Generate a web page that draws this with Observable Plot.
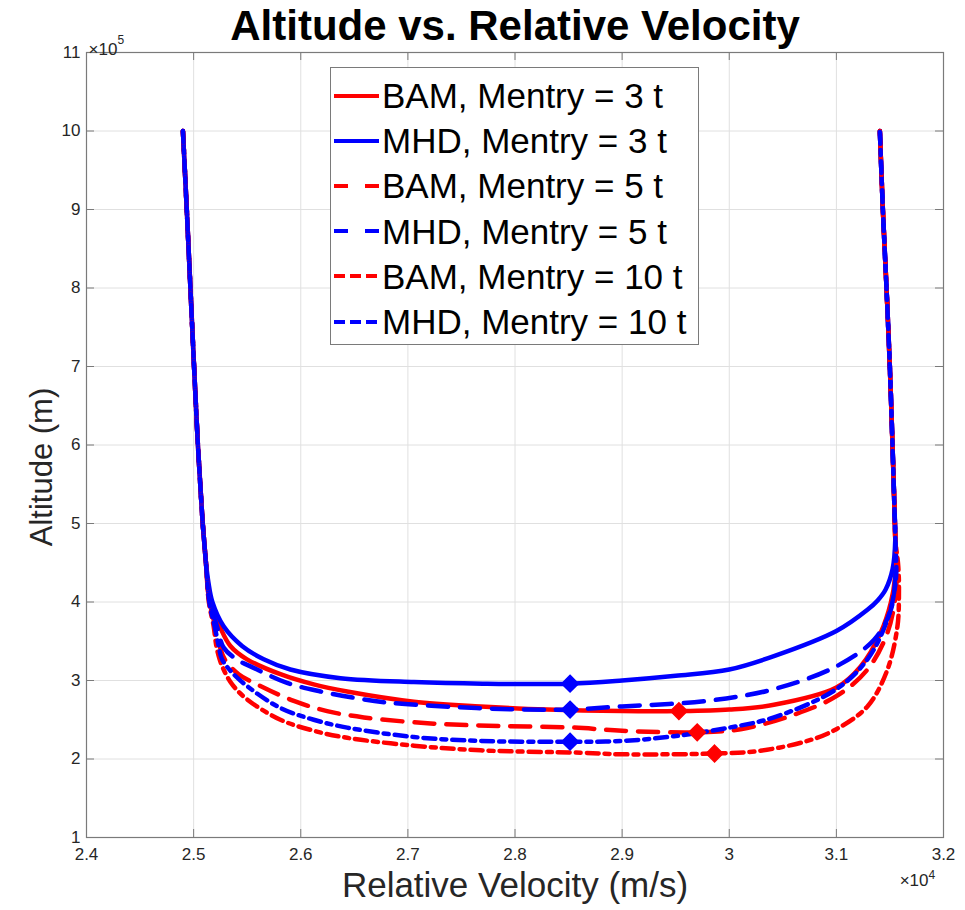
<!DOCTYPE html>
<html>
<head>
<meta charset="utf-8">
<script src="https://cdn.jsdelivr.net/npm/d3@7"></script>
<script src="https://cdn.jsdelivr.net/npm/@observablehq/plot@0.6"></script>
<style>
  html, body { margin: 0; padding: 0; background: #fff; }
  #wrap { position: relative; width: 965px; height: 910px; font-family: "Liberation Sans", Arial, sans-serif; }
  #legend { position: absolute; left: 330px; top: 67px; width: 369px; height: 278px; background: #fff; border: 1px solid #7a7a7a; box-sizing: border-box; }
  .row { position: absolute; left: 0; height: 45px; display: flex; align-items: center; }
  .row svg { margin-left: 3px; }
  .row span { font-size: 35px; color: #000; margin-left: 3px; line-height: 45px; }
</style>
</head>
<body>
<div id="wrap"></div>
<script>
// ---------- data ----------
const titleText = "Altitude vs. Relative Velocity";
const xLabel = "Relative Velocity (m/s)";
const yLabel = "Altitude (m)";
const xTicks = [24000, 25000, 26000, 27000, 28000, 29000, 30000, 31000, 32000];
const yTicks = [100000, 200000, 300000, 400000, 500000, 600000, 700000, 800000, 900000, 1000000, 1100000];

// shared entry branch (left) and exit branch (right)
const leftV = [24900, 24936, 24970, 25004, 25040, 25062, 25085, 25100, 25115];
const leftH = [1000000, 900000, 800000, 700000, 600000, 550000, 500000, 475000, 450000];
const rightV = [31550, 31542, 31524, 31499, 31468, 31434, 31406];
const rightH = [480000, 520000, 600000, 700000, 800000, 900000, 1000000];

const bam3V = [25150, 25243, 25343, 25498, 25810, 26121, 26433, 27056, 27679, 28302, 29000, 29530, 30000, 30417, 31000, 31227, 31414, 31508, 31548];
const bam3H = [400000, 369000, 344000, 327000, 308000, 295000, 286000, 273000, 267000, 263000, 261000, 261000, 263000, 269000, 291000, 318000, 361000, 399000, 432000];

const mhd3V = [25138, 25175, 25280, 25452, 25654, 25903, 26371, 27056, 27700, 28514, 29000, 29500, 30000, 30417, 31000, 31290, 31385, 31460, 31525];
const mhd3H = [425000, 400000, 369000, 344000, 327000, 314000, 303000, 298000, 296000, 296000, 300000, 306000, 314000, 331000, 363000, 390000, 402000, 416000, 442000];

const bam5V = [25148, 25202, 25243, 25290, 25420, 25623, 25935, 26246, 26589, 27243, 27897, 28551, 29000, 29701, 30106, 30573, 31000, 31290, 31477, 31555, 31560];
const bam5H = [400000, 369000, 344000, 327000, 308000, 293000, 274000, 261000, 253000, 245000, 242000, 240000, 236000, 234000, 238000, 255000, 280000, 314000, 361000, 411000, 445000];

const mhd5V = [25152, 25218, 25280, 25400, 25545, 25872, 26184, 26495, 26807, 27461, 28084, 28514, 29000, 29794, 30417, 31000, 31352, 31508, 31550];
const mhd5H = [400000, 369000, 342000, 327000, 317000, 297000, 286000, 278000, 272000, 266000, 263000, 263000, 267000, 274000, 289000, 318000, 352000, 390000, 430000];

const bam10V = [25142, 25187, 25212, 25243, 25280, 25360, 25498, 25810, 26121, 26433, 27056, 27679, 28614, 29000, 29863, 30262, 30729, 31000, 31290, 31477, 31570, 31584, 31578];
const bam10H = [400000, 369000, 344000, 327000, 314000, 295000, 276000, 250000, 236000, 227000, 217000, 211000, 208000, 206000, 207000, 210000, 223000, 238000, 267000, 314000, 369000, 411000, 445000];

const mhd10V = [25146, 25196, 25234, 25265, 25360, 25498, 25810, 26121, 26433, 27056, 27679, 28514, 29000, 29483, 30000, 30417, 31000, 31290, 31477, 31555];
const mhd10H = [400000, 369000, 344000, 327000, 310000, 293000, 265000, 250000, 240000, 228000, 223000, 222000, 223000, 229000, 240000, 253000, 289000, 327000, 378000, 428000];

const seriesNames = ["BAM, Mentry = 3 t", "MHD, Mentry = 3 t", "BAM, Mentry = 5 t", "MHD, Mentry = 5 t", "BAM, Mentry = 10 t", "MHD, Mentry = 10 t"];
const seriesColors = ["#ff0000", "#0000ff", "#ff0000", "#0000ff", "#ff0000", "#0000ff"];
const seriesDash = ["none", "none", "20,12", "20,12", "12,6,5,6", "12,6,5,6"];
const legendDash = ["none", "none", "14,17", "14,17", "11,5", "11,5"];

// minimum-altitude markers (diamonds)
const markerV = [29530, 28514, 29701, 28514, 29863, 28514];
const markerH = [261000, 296000, 234000, 263000, 207000, 222000];

// ---------- build ----------
const bottoms = [[bam3V, bam3H], [mhd3V, mhd3H], [bam5V, bam5H], [mhd5V, mhd5H], [bam10V, bam10H], [mhd10V, mhd10H]];
function track(vs, hs) {
  const v = [...leftV, ...vs, ...rightV];
  const h = [...leftH, ...hs, ...rightH];
  return v.map((d, i) => ({v: d, h: h[i]}));
}
const tracks = bottoms.map(([v, h]) => track(v, h));
const markers = markerV.map((v, i) => ({v, h: markerH[i], c: seriesColors[i]}));

const W = 965, H = 910, mL = 86, mR = 22, mT = 52, mB = 73;
const fw = W - mL - mR, fh = H - mT - mB;
const tickLen = 8;
const axisColor = "#7a7a7a";
const labelColor = "#262626";

const fmtX = d => String(+(d / 1e4).toFixed(1));
const fmtY = d => String(+(d / 1e5).toFixed(1));

const chart = Plot.plot({
  width: W, height: H,
  marginLeft: mL, marginRight: mR, marginTop: mT, marginBottom: mB,
  style: {fontFamily: "'Liberation Sans', Arial, sans-serif", background: "#fff", overflow: "visible"},
  x: {domain: [24000, 32000], axis: null},
  y: {domain: [100000, 1100000], axis: null},
  marks: [
    Plot.gridX(xTicks, {stroke: "#e0e0e0", strokeOpacity: 1}),
    Plot.gridY(yTicks, {stroke: "#e0e0e0", strokeOpacity: 1}),
    ...tracks.map((t, i) => Plot.line(t, {
      x: "v", y: "h", curve: "catmull-rom",
      stroke: seriesColors[i], strokeWidth: 4.5,
      strokeDasharray: seriesDash[i] === "none" ? null : seriesDash[i]
    })),
    Plot.dot(markers, {x: "v", y: "h", fill: "c", stroke: "c", symbol: "diamond2", r: 7.5}),
    Plot.frame({stroke: axisColor, strokeWidth: 1.2}),
    // inward tick marks on all four sides
    Plot.ruleX(xTicks, {x: d => d, insetTop: fh - tickLen, stroke: axisColor}),
    Plot.ruleX(xTicks, {x: d => d, insetBottom: fh - tickLen, stroke: axisColor}),
    Plot.ruleY(yTicks, {y: d => d, insetRight: fw - tickLen, stroke: axisColor}),
    Plot.ruleY(yTicks, {y: d => d, insetLeft: fw - tickLen, stroke: axisColor}),
    // tick labels
    Plot.axisX(xTicks, {anchor: "bottom", tickSize: 0, tickPadding: 10, tickFormat: fmtX, fontSize: 17, fill: labelColor, label: null}),
    Plot.axisY(yTicks, {anchor: "left", tickSize: 0, tickPadding: 6, tickFormat: fmtY, fontSize: 17, fill: labelColor, label: null}),
    // exponent notes
    Plot.text(["×10"], {frameAnchor: "top-left", textAnchor: "start", dx: 2, dy: -10, fontSize: 17, fill: labelColor}),
    Plot.text(["5"], {frameAnchor: "top-left", textAnchor: "start", dx: 31, dy: -17, fontSize: 12, fill: labelColor}),
    Plot.text(["×10"], {frameAnchor: "bottom-right", textAnchor: "end", dx: -15, dy: 48, fontSize: 17, fill: labelColor}),
    Plot.text(["4"], {frameAnchor: "bottom-right", textAnchor: "start", dx: -15, dy: 41, fontSize: 12, fill: labelColor}),
    // axis titles
    Plot.text([xLabel], {frameAnchor: "bottom", dy: 59, fontSize: 35, fill: labelColor}),
    Plot.text([yLabel], {frameAnchor: "left", textAnchor: "middle", dx: -44, dy: 22, rotate: -90, fontSize: 31, fill: labelColor}),
    // chart title
    Plot.text([titleText], {frameAnchor: "top", dy: -42, fontSize: 42, fontWeight: "bold", fill: "#000"})
  ]
});

const wrap = document.getElementById("wrap");
wrap.appendChild(chart);

// legend
const legend = document.createElement("div");
legend.id = "legend";
seriesNames.forEach((name, i) => {
  const row = document.createElement("div");
  row.className = "row";
  row.style.top = (5 + i * 45.2) + "px";
  const ns = "http://www.w3.org/2000/svg";
  const s = document.createElementNS(ns, "svg");
  s.setAttribute("width", 45); s.setAttribute("height", 10);
  const l = document.createElementNS(ns, "line");
  l.setAttribute("x1", 0); l.setAttribute("x2", 45);
  l.setAttribute("y1", 5); l.setAttribute("y2", 5);
  l.setAttribute("stroke", seriesColors[i]); l.setAttribute("stroke-width", 4);
  if (legendDash[i] !== "none") l.setAttribute("stroke-dasharray", legendDash[i]);
  s.appendChild(l);
  const t = document.createElement("span");
  t.textContent = name;
  row.appendChild(s); row.appendChild(t);
  legend.appendChild(row);
});
wrap.appendChild(legend);
</script>
</body>
</html>
